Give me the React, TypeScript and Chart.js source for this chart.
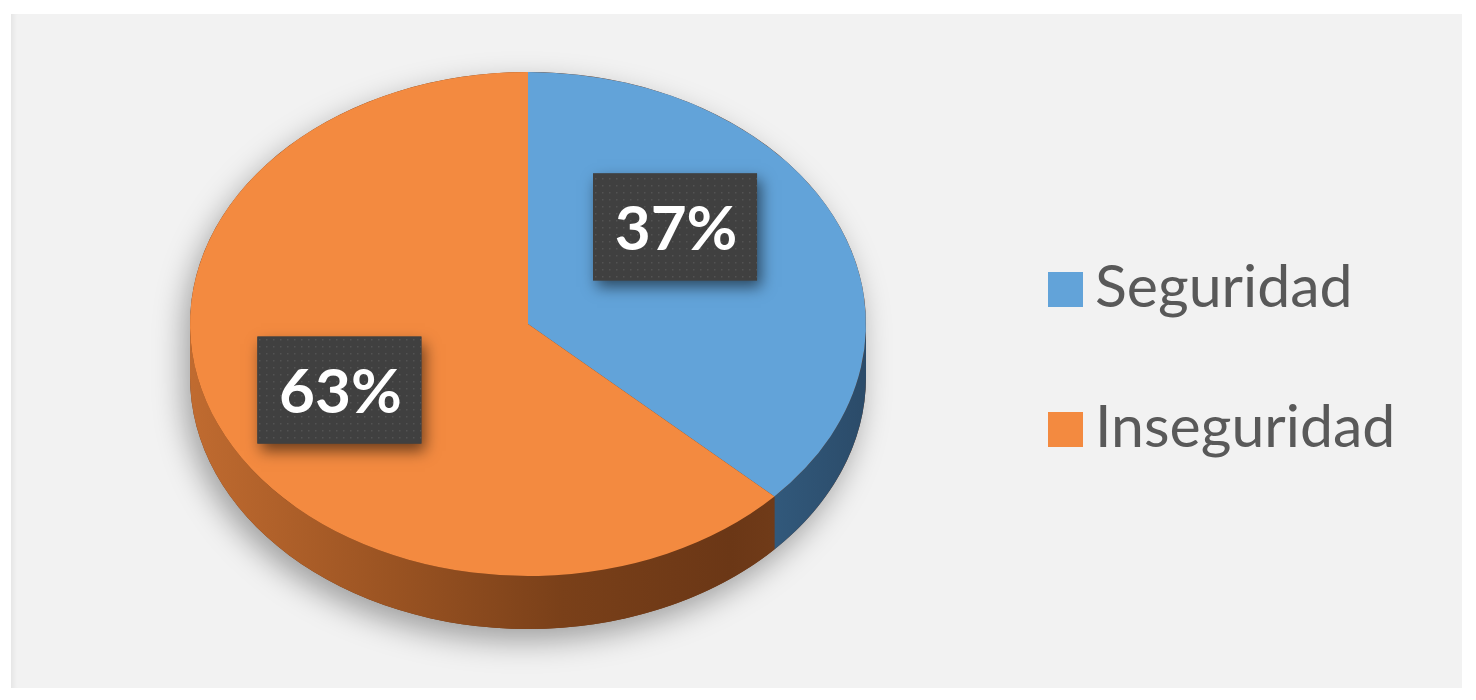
import React, { useEffect, useRef } from 'react';
import { Chart, registerables } from 'chart.js';

Chart.register(...registerables);

// ---- data ----
const categories = ['Seguridad', 'Inseguridad'];
const values = [37, 63];
const valueLabels = ['37%', '63%'];

// ---- styles ----
const topColors = ['#62a3d9', '#f38a40'];
const sideStops = [
  [[0, '#3a6489'], [0.85, '#325a7d'], [1, '#2b4b69']],
  [[0, '#c06b30'], [0.3, '#9a5322'], [0.55, '#7a4019'], [0.8, '#6b3716'], [1, '#7a431e']],
];

const CANVAS_W = 1451;
const CANVAS_H = 674;

export default function App() {
  const ref = useRef<HTMLCanvasElement>(null);

  useEffect(() => {
    const canvas = ref.current;
    if (!canvas) return;

    const SX = 338 / 252; // horizontal stretch of the tilted pie
    const DEPTH = 53;

    // dotted pattern for label boxes
    const pc = document.createElement('canvas');
    pc.width = 7;
    pc.height = 7;
    const pctx = pc.getContext('2d')!;
    pctx.fillStyle = '#404040';
    pctx.fillRect(0, 0, 7, 7);
    pctx.fillStyle = 'rgba(255,255,255,0.10)';
    pctx.fillRect(3, 3, 1.5, 1.5);

    const visibleRange = (s: number, e: number): [number, number] | null => {
      for (const k of [-2, 0, 2]) {
        const lo = Math.max(s, k * Math.PI);
        const hi = Math.min(e, k * Math.PI + Math.PI);
        if (hi > lo) return [lo, hi];
      }
      return null;
    };

    const pie3d = {
      id: 'pie3d',
      beforeDatasetsDraw(chart: any) {
        const arcs = chart.getDatasetMeta(0).data;
        if (!arcs.length) return;
        const { x: cx, y: cy, outerRadius: r } = arcs[0];
        const ctx = chart.ctx;
        ctx.save();
        ctx.translate(cx, cy);
        ctx.scale(SX, 1);
        ctx.translate(-cx, -cy);

        // soft shadow under the pie
        ctx.save();
        ctx.shadowColor = 'rgba(0,0,0,0.34)';
        ctx.shadowBlur = 30;
        ctx.shadowOffsetX = -6;
        ctx.shadowOffsetY = 12;
        ctx.beginPath();
        ctx.arc(cx, cy, r, Math.PI, 0, false);
        ctx.lineTo(cx + r, cy + DEPTH);
        ctx.arc(cx, cy + DEPTH, r, 0, Math.PI, false);
        ctx.closePath();
        ctx.fillStyle = '#6b3716';
        ctx.fill();
        ctx.restore();

        // side walls
        arcs.forEach((arc: any, i: number) => {
          const vr = visibleRange(arc.startAngle, arc.endAngle);
          if (!vr) return;
          const [a1, a2] = vr;
          const g = ctx.createLinearGradient(cx - r, 0, cx + r, 0);
          sideStops[i].forEach(([o, c]: any) => g.addColorStop(o, c));
          ctx.beginPath();
          ctx.arc(cx, cy, r, a1, a2, false);
          ctx.lineTo(cx + Math.cos(a2) * r, cy + DEPTH + Math.sin(a2) * r);
          ctx.arc(cx, cy + DEPTH, r, a2, a1, true);
          ctx.closePath();
          ctx.fillStyle = g;
          ctx.fill();
        });
      },
      afterDatasetsDraw(chart: any, _args: any, opts: any) {
        const ctx = chart.ctx;
        ctx.restore();
        const arcs = chart.getDatasetMeta(0).data;
        if (!arcs.length) return;
        const { x: cx, y: cy, outerRadius: r } = arcs[0];
        const pattern = ctx.createPattern(pc, 'repeat');
        arcs.forEach((arc: any, i: number) => {
          const mid = (arc.startAngle + arc.endAngle) / 2;
          const px = cx + Math.cos(mid) * r * SX * opts.fx[i];
          const py = cy + Math.sin(mid) * r * opts.fy[i];
          const w = opts.boxW, h = opts.boxH;
          ctx.save();
          ctx.shadowColor = 'rgba(0,0,0,0.55)';
          ctx.shadowBlur = 14;
          ctx.shadowOffsetX = 4;
          ctx.shadowOffsetY = 7;
          ctx.fillStyle = '#404040';
          ctx.fillRect(px - w / 2, py - h / 2, w, h);
          ctx.restore();
          ctx.fillStyle = pattern;
          ctx.fillRect(px - w / 2, py - h / 2, w, h);
          ctx.fillStyle = '#ffffff';
          ctx.font = `bold ${opts.fontSize}px Lato, "Open Sans", sans-serif`;
          ctx.textAlign = 'center';
          ctx.textBaseline = 'alphabetic';
          ctx.fillText(valueLabels[i], px + 1, py + opts.fontSize * 0.37);
        });
      },
    };

    const customLegend = {
      id: 'customLegend',
      afterDraw(chart: any, _args: any, opts: any) {
        const ctx = chart.ctx;
        ctx.save();
        const labels = chart.data.labels as string[];
        const colors = chart.data.datasets[0].backgroundColor as string[];
        labels.forEach((lab, i) => {
          const cyItem = opts.y + i * opts.spacing;
          ctx.fillStyle = colors[i];
          ctx.fillRect(opts.x, cyItem - opts.box / 2, opts.box, opts.box);
          ctx.fillStyle = '#595959';
          ctx.font = `${opts.fontSize}px Lato, "Open Sans", sans-serif`;
          ctx.textAlign = 'left';
          ctx.textBaseline = 'alphabetic';
          ctx.fillText(lab, opts.x + opts.box + opts.gap, cyItem + opts.box / 2);
        });
        ctx.restore();
      },
    };

    const chart = new Chart(canvas, {
      type: 'pie',
      data: {
        labels: categories,
        datasets: [
          {
            data: values,
            backgroundColor: topColors,
            borderWidth: 0,
            clip: false as any,
          },
        ],
      },
      options: {
        responsive: false,
        animation: false,
        radius: 252,
        layout: { padding: { left: 0, right: 417, top: 0, bottom: 54 } },
        plugins: {
          legend: { display: false },
          tooltip: { enabled: false },
          pie3d: { fx: [0.474, 0.608], fy: [0.97, 0.66], boxW: 164, boxH: 107, fontSize: 62 },
          customLegend: { x: 1037, y: 275.5, spacing: 140, box: 35, gap: 12, fontSize: 59 },
        } as any,
      },
      plugins: [pie3d, customLegend],
    });

    return () => chart.destroy();
  }, []);

  return (
    <div
      style={{
        position: 'absolute',
        left: 11,
        top: 14,
        width: CANVAS_W,
        height: CANVAS_H,
        background: '#f2f2f2',
        boxShadow: 'inset 6px 0 4px -3px rgba(0,0,0,0.05)',
      }}
    >
      <canvas ref={ref} width={CANVAS_W} height={CANVAS_H} style={{ display: 'block' }} />
    </div>
  );
}
